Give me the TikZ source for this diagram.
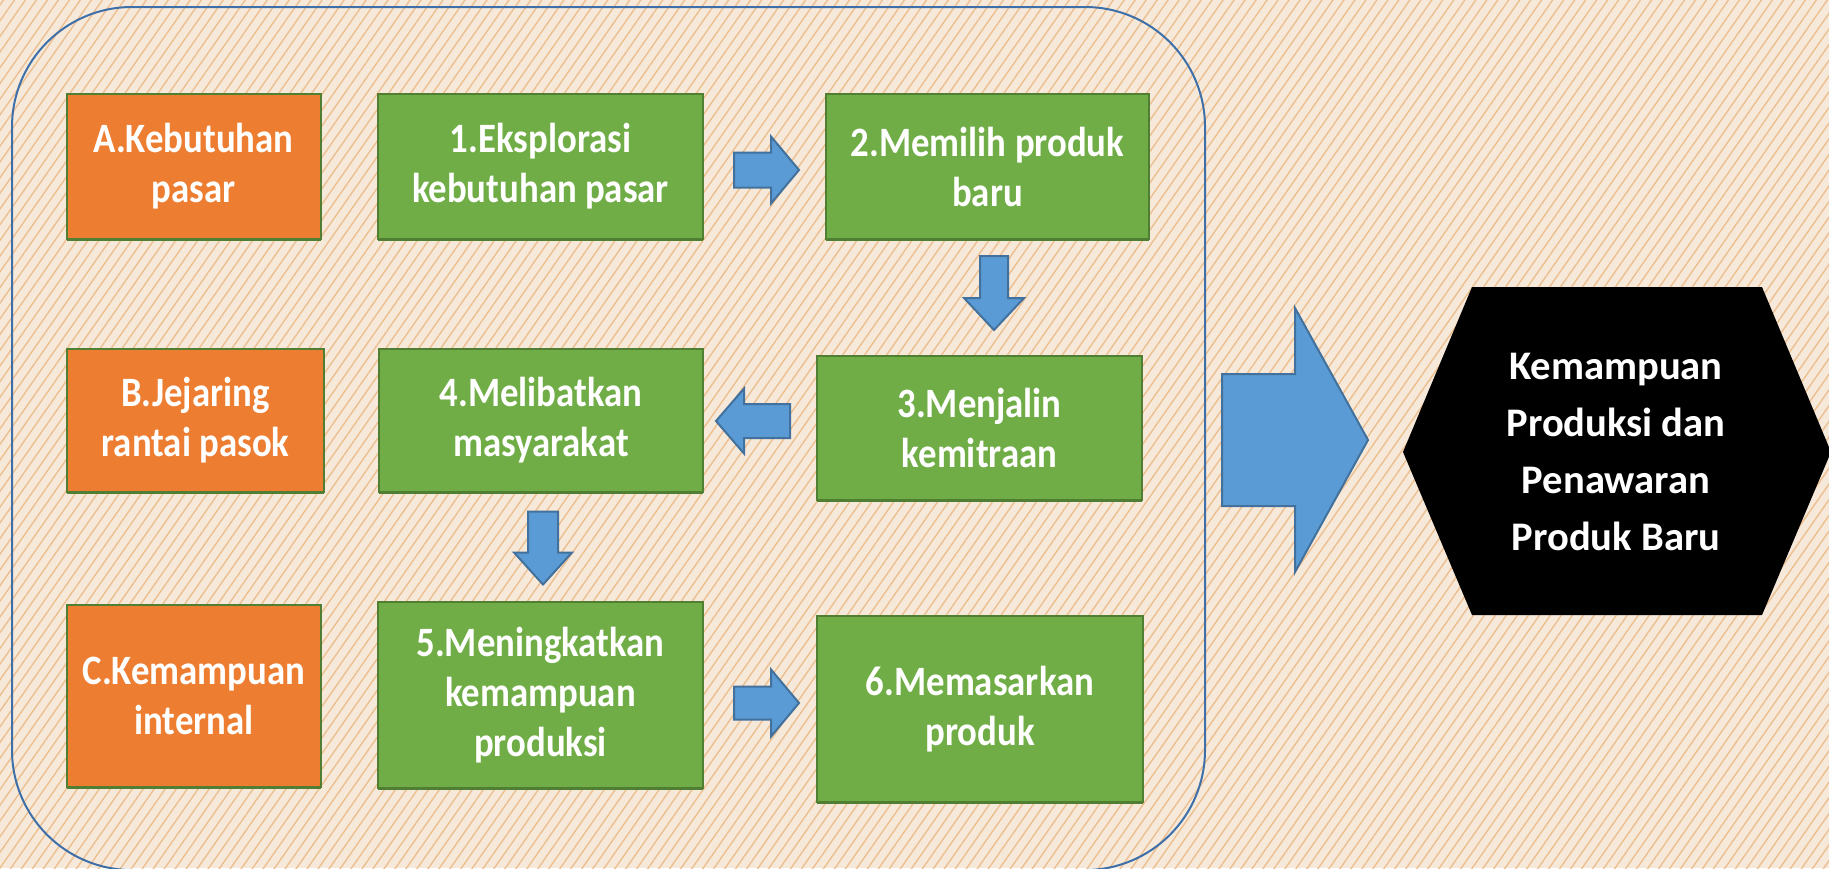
\documentclass[tikz,border=0pt]{standalone}
\usepackage{fontspec}
\setmainfont{Carlito}
\newfontfamily\boxfont{Carlito}[FakeStretch=0.88]
\usetikzlibrary{calc,patterns.meta}
\definecolor{bgbase}{HTML}{F6E9DA}
\definecolor{bgline}{HTML}{EDBE90}
\definecolor{orangefill}{HTML}{ED7D31}
\definecolor{greenfill}{HTML}{70AD47}
\definecolor{boxline}{HTML}{507E32}
\definecolor{arrowfill}{HTML}{5B9BD5}
\definecolor{arrowline}{HTML}{41719C}
\definecolor{framecol}{HTML}{3E6FA8}
\newcommand\blockarrow[6]{%
  \draw[barrow, shift={(#1)}, rotate=#2]
    (0,-#4/2) -- ({#3-#6},-#4/2) -- ({#3-#6},-#5/2) -- (#3,0)
    -- ({#3-#6},#5/2) -- ({#3-#6},#4/2) -- (0,#4/2) -- cycle;}
\begin{document}
\begin{tikzpicture}[x=0.5pt,y=-0.5pt,
  box/.style={draw=boxline, line width=1pt, text=white, align=center,
    font=\boxfont\fontsize{20.9pt}{25pt}\selectfont\bfseries,
    preaction={fill=boxline, transform canvas={yshift=-1pt}}},
  obox/.style={box, fill=orangefill},
  gbox/.style={box, fill=greenfill},
  barrow/.style={fill=arrowfill, draw=arrowline, line width=1pt, line join=miter},
  frame/.style={draw=framecol, line width=1pt, rounded corners=60pt}]
\useasboundingbox (0,0) rectangle (1829,868);
% background
\fill[bgbase] (0,0) rectangle (1829,868);
\fill[pattern={Lines[angle=55,distance=4.5pt,line width=0.7pt]}, pattern color=bgline] (0,0) rectangle (1829,868);
% frame
\draw[frame] (12,7) rectangle (1205,870);
% left column
\node[obox, minimum width=127pt, minimum height=72.5pt] (nA) at (193.5,166.5) {A.Kebutuhan\\pasar};
\node[obox, minimum width=128.5pt, minimum height=71.5pt] (nB) at (195.5,420.5) {B.Jejaring\\rantai pasok};
\node[obox, minimum width=127pt, minimum height=91pt] (nC) at (194,696) {C.Kemampuan\\internal};
% steps
\node[gbox, minimum width=162.5pt, minimum height=72.5pt] (n1) at (540.5,166.5) {1.Eksplorasi\\kebutuhan pasar};
\node[gbox, minimum width=161.5pt, minimum height=72.5pt] (n2) at (987.5,166.5) {2.Memilih produk\\baru};
\node[gbox, minimum width=162.5pt, minimum height=72pt] (n3) at (979.5,428) {3.Menjalin\\kemitraan};
\node[gbox, minimum width=162pt, minimum height=71.5pt] (n4) at (541,420.5) {4.Melibatkan\\masyarakat};
\node[gbox, minimum width=162.5pt, minimum height=93pt] (n5) at (540.5,695) {5.Meningkatkan\\kemampuan\\produksi};
\node[gbox, minimum width=163pt, minimum height=93pt] (n6) at (980,709) {6.Memasarkan\\produk};
% arrows
\coordinate (t12) at ($(n1.east)+(30,3.5)$);
\coordinate (t23) at ($(n2.south)+(6.5,16)$);
\coordinate (t34) at ($(n3.west)+(-26,-7)$);
\coordinate (t45) at ($(n4.south)+(2,18.5)$);
\coordinate (t56) at ($(n5.east)+(30,8)$);
\coordinate (tbig) at (1222,440);
\blockarrow{t12}{0}{65}{35}{67}{28}
\blockarrow{t23}{-90}{74}{28}{60}{32}
\blockarrow{t34}{180}{74}{34}{65}{28}
\blockarrow{t45}{-90}{73}{30}{58}{32}
\blockarrow{t56}{0}{65}{33}{67}{28}
\blockarrow{tbig}{0}{146}{132}{264}{73}
% result hexagon
\fill[black] (1403,452) -- (1472,287) -- (1762,287) -- (1831,452) -- (1762,615) -- (1472,615) -- cycle;
\node[text=white, align=center, font=\fontsize{20.3pt}{28.6pt}\selectfont\bfseries] (hex) at (1616,452)
  {Kemampuan\\Produksi dan\\Penawaran\\Produk Baru};
\end{tikzpicture}
\end{document}
